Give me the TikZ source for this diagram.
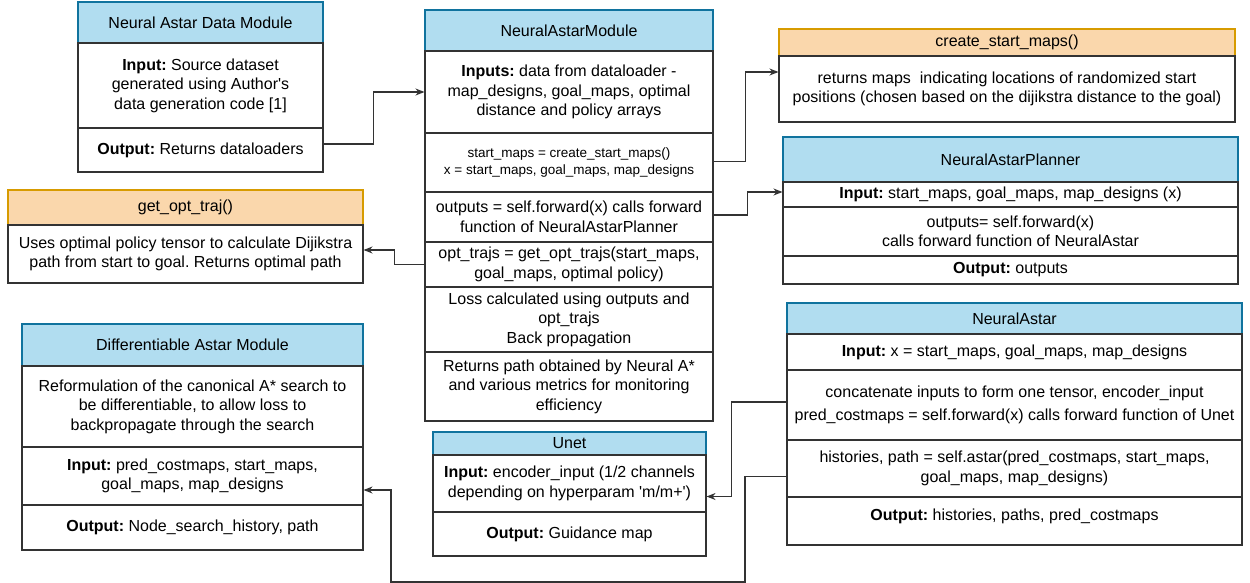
\documentclass[tikz,border=0pt]{standalone}
\usepackage{fontspec}
\setmainfont{Liberation Sans}
\usetikzlibrary{arrows.meta}
\definecolor{hblue}{HTML}{B1DDF0}
\definecolor{hbluedraw}{HTML}{10739E}
\definecolor{horange}{HTML}{FAD7AC}
\definecolor{horangedraw}{HTML}{D79B00}
\definecolor{lin}{HTML}{333333}
\frenchspacing
\begin{document}
\begin{tikzpicture}[x=1pt,y=-1pt,
  sec/.style={draw=lin, line width=1.1pt, fill=white, align=center, inner sep=0pt, font=\fontsize{16}{19.5}\selectfont\frenchspacing},
  small/.style={font=\fontsize{13.5}{17.5}\selectfont\frenchspacing},
  hb/.style={sec, fill=hblue, draw=hbluedraw},
  ho/.style={sec, fill=horange, draw=horangedraw},
  arr/.style={draw=lin, line width=1.1pt, -{Stealth[length=9pt,width=7pt]}},
  wh/.style 2 args={minimum width=#1, minimum height=#2}]
\useasboundingbox (0,0) rectangle (1250,583);

% Neural Astar Data Module
\node[hb, wh={245}{41}] (dm-h) at (200.5,22.5) {Neural Astar Data Module};
\node[sec, wh={245}{85}] (dm-in) at (200.5,85.5) {\textbf{Input:} Source dataset\\generated using Author\textquotesingle s\\data generation code [1]};
\node[sec, wh={245}{44}] (dm-out) at (200.5,150) {\textbf{Output:} Returns dataloaders};

% NeuralAstarModule
\node[hb, wh={288}{41}] (nam-h) at (569,30.5) {NeuralAstarModule};
\node[sec, wh={288}{82}] (nam-in) at (569,92) {\textbf{Inputs:} data from dataloader -\\map\_designs, goal\_maps, optimal\\distance and policy arrays};
\node[sec, small, wh={288}{59}] (nam-sm) at (569,162.5) {start\_maps = create\_start\_maps()\\x = start\_maps, goal\_maps, map\_designs};
\node[sec, wh={288}{50}] (nam-fw) at (569,217) {outputs = self.forward(x) calls forward\\function of NeuralAstarPlanner};
\node[sec, wh={288}{45}] (nam-ot) at (569,264.5) {opt\_trajs = get\_opt\_trajs(start\_maps,\\goal\_maps, optimal policy)};
\node[sec, wh={288}{65}] (nam-loss) at (569,319.5) {Loss calculated using outputs and\\opt\_trajs\\Back propagation};
\node[sec, wh={288}{69}] (nam-ret) at (569,386.5) {Returns path obtained by Neural A*\\and various metrics for monitoring\\efficiency};

% create_start_maps
\node[ho, wh={456}{27}] (csm-h) at (1007,42.5) {create\_start\_maps()};
\node[sec, wh={456}{66}] (csm-b) at (1007,89) {returns maps\ \ indicating locations of randomized start\\positions (chosen based on the dijikstra distance to the goal)};

% NeuralAstarPlanner
\node[hb, wh={455}{45}] (nap-h) at (1010.5,159.5) {NeuralAstarPlanner};
\node[sec, wh={455}{25}] (nap-in) at (1010.5,194.5) {\textbf{Input:} start\_maps, goal\_maps, map\_designs (x)};
\node[sec, wh={455}{49}] (nap-fw) at (1010.5,231.5) {outputs= self.forward(x)\\calls forward function of NeuralAstar};
\node[sec, wh={455}{28}] (nap-out) at (1010.5,270) {\textbf{Output:} outputs};

% get_opt_traj
\node[ho, wh={355}{35}] (got-h) at (185.5,207.5) {get\_opt\_traj()};
\node[sec, wh={355}{58}] (got-b) at (185.5,254) {Uses optimal policy tensor to calculate Dijikstra\\path from start to goal. Returns optimal path};

% Differentiable Astar Module
\node[hb, wh={341}{42}] (dam-h) at (192.5,345) {Differentiable Astar Module};
\node[sec, wh={341}{81}] (dam-d) at (192.5,406.5) {Reformulation of the canonical A* search to\\be differentiable, to allow loss to\\backpropagate through the search};
\node[sec, wh={341}{58}] (dam-in) at (192.5,476) {\textbf{Input:} pred\_costmaps, start\_maps,\\goal\_maps, map\_designs};
\node[sec, wh={341}{45}] (dam-out) at (192.5,527.5) {\textbf{Output:} Node\_search\_history, path};

% Unet
\node[hb, wh={273}{23}] (unet-h) at (569.5,443.5) {Unet};
\node[sec, wh={273}{57}] (unet-in) at (569.5,483.5) {\textbf{Input:} encoder\_input (1/2 channels\\depending on hyperparam \textquotesingle m/m+\textquotesingle)};
\node[sec, wh={273}{44}] (unet-out) at (569.5,534) {\textbf{Output:} Guidance map};

% NeuralAstar
\node[hb, wh={455}{31}] (na-h) at (1014.5,318.5) {NeuralAstar};
\node[sec, wh={455}{36}] (na-in) at (1014.5,352) {\textbf{Input:} x = start\_maps, goal\_maps, map\_designs};
\node[sec, wh={455}{70}] (na-fw) at (1014.5,405) {concatenate inputs to form one tensor, encoder\_input\\[4pt]pred\_costmaps = self.forward(x) calls forward function of Unet};
\node[sec, wh={455}{57}] (na-as) at (1014.5,468.5) {histories, path = self.astar(pred\_costmaps, start\_maps,\\goal\_maps, map\_designs)};
\node[sec, wh={455}{48}] (na-out) at (1014.5,521) {\textbf{Output:} histories, paths, pred\_costmaps\\[-6pt]\mbox{}};

% connectors
\coordinate (c1) at (745,582);
\coordinate (c2) at (391,582);
\draw[arr] ([yshift=6pt]dm-out.east) -- ++(50,0) |- (nam-in.west);
\draw[arr] ([yshift=1pt]nam-sm.east) -- ++(32,0) |- ([yshift=17pt]csm-b.west);
\draw[arr] ([yshift=2pt]nam-fw.east) -- ++(34,0) |- ([yshift=2.5pt]nap-in.west);
\draw[arr] (nam-ot.west) -- ++(-30,0) |- ([yshift=4pt]got-b.east);
\draw[arr] ([yshift=3pt]na-fw.west) -- ++(-55,0) |- ([yshift=-13pt]unet-in.east);
\draw[arr] ([yshift=-8pt]na-as.west) -| (c1) -- (c2) |- ([yshift=-14pt]dam-in.east);
\end{tikzpicture}
\end{document}
